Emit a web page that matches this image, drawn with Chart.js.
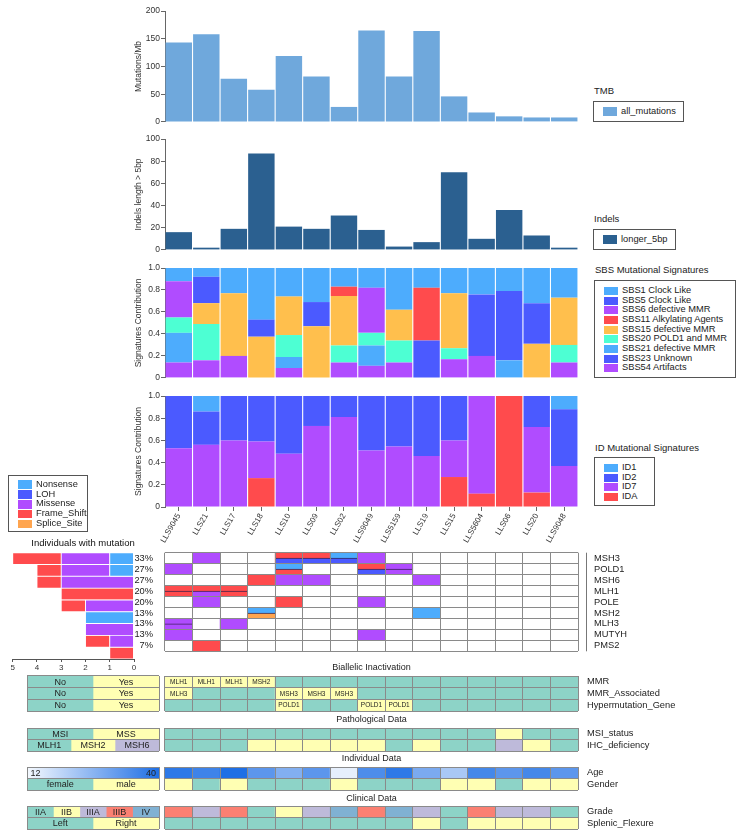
<!DOCTYPE html>
<html>
<head>
<meta charset="utf-8">
<title>Mutational landscape</title>
<script src="https://cdn.jsdelivr.net/npm/chart.js@4.4.1/dist/chart.umd.min.js"></script>
<style>
html,body{margin:0;padding:0;background:#fff;}
body{position:relative;width:743px;height:840px;overflow:hidden;font-family:"Liberation Sans",Arial,Helvetica,sans-serif;color:#222;}
canvas{position:absolute;}
.tx{position:absolute;white-space:nowrap;line-height:1;color:#222;}
.box{position:absolute;border:1px solid #555;box-sizing:border-box;}
.sw{position:absolute;}
</style>
</head>
<body>
<script>
// ---------------- DATA ----------------
const samples = ['LLS9045','LLS21','LLS17','LLS18','LLS10','LLS09','LLS02','LLS9049','LLS5159','LLS19','LLS15','LLS5604','LLS06','LLS20','LLS9048'];

const tmbAllMutations = [143, 158, 78, 58, 119, 82, 27, 165, 82, 164, 46, 17, 10, 8, 8];
const indelsLonger5bp = [16, 2, 19, 87, 21, 19, 31, 18, 3, 7, 70, 10, 36, 13, 2];

const sbs1  = [0.12, 0.08, 0.23, 0.47, 0.26, 0.31, 0.17, 0.18, 0.38, 0.18, 0.23, 0.24, 0.21, 0.32, 0.27];
const sbs5  = [0, 0.24, 0, 0.155, 0, 0.22, 0, 0, 0, 0, 0, 0.56, 0.63, 0.37, 0];
const sbs6  = [0.33, 0, 0, 0, 0, 0, 0, 0.41, 0, 0, 0, 0, 0, 0, 0];
const sbs11 = [0, 0, 0, 0, 0, 0, 0.085, 0, 0, 0.48, 0, 0, 0, 0, 0];
const sbs15 = [0, 0.19, 0.57, 0.375, 0.35, 0.47, 0.45, 0, 0.28, 0, 0.50, 0, 0, 0.31, 0.43];
const sbs20 = [0.14, 0.33, 0, 0, 0.20, 0, 0.155, 0.115, 0.20, 0, 0.10, 0, 0, 0, 0.16];
const sbs21 = [0.27, 0, 0, 0, 0.10, 0, 0, 0.185, 0, 0, 0, 0, 0.16, 0, 0];
const sbs23 = [0, 0, 0, 0, 0, 0, 0, 0, 0, 0.34, 0, 0, 0, 0, 0];
const sbs54 = [0.14, 0.16, 0.20, 0, 0.09, 0, 0.14, 0.11, 0.14, 0, 0.17, 0.20, 0, 0, 0.14];

const id1 = [0, 0.14, 0, 0, 0, 0, 0, 0, 0, 0, 0, 0, 0, 0, 0.12];
const id2 = [0.47, 0.30, 0.40, 0.41, 0.52, 0.27, 0.19, 0.49, 0.455, 0.54, 0.40, 0, 0, 0.28, 0.51];
const id7 = [0.53, 0.56, 0.60, 0.33, 0.48, 0.73, 0.81, 0.51, 0.545, 0.46, 0.33, 0.88, 0, 0.59, 0.37];
const idA = [0, 0, 0, 0.26, 0, 0, 0, 0, 0, 0, 0.27, 0.12, 1, 0.13, 0];

const genes   = ['MSH3','POLD1','MSH6','MLH1','POLE','MSH2','MLH3','MUTYH','PMS2'];
const genePct = ['33%','27%','27%','20%','20%','13%','13%','13%','7%'];

const mutMSH3  = ['', 'Missense', '', '', 'Frame_Shift+LOH', 'Frame_Shift+LOH', 'Nonsense+LOH', 'Missense', '', '', '', '', '', '', ''];
const mutPOLD1 = ['Missense', '', '', '', 'Nonsense+Frame_Shift', '', '', 'Frame_Shift+LOH', 'Missense+Missense', '', '', '', '', '', ''];
const mutMSH6  = ['', '', '', 'Frame_Shift', 'Missense', 'Missense', '', '', '', 'Missense', '', '', '', '', ''];
const mutMLH1  = ['Frame_Shift+Frame_Shift', 'Frame_Shift+Missense', 'Frame_Shift+Frame_Shift', '', '', '', '', '', '', '', '', '', '', '', ''];
const mutPOLE  = ['', 'Missense', '', '', 'Frame_Shift', '', '', 'Missense', '', '', '', '', '', '', ''];
const mutMSH2  = ['', '', '', 'Nonsense+Splice_Site', '', '', '', '', '', 'Nonsense', '', '', '', '', ''];
const mutMLH3  = ['Missense+Missense', '', 'Missense', '', '', '', '', '', '', '', '', '', '', '', ''];
const mutMUTYH = ['Missense', '', '', '', '', '', '', 'Missense', '', '', '', '', '', '', ''];
const mutPMS2  = ['', 'Frame_Shift', '', '', '', '', '', '', '', '', '', '', '', '', ''];

const countNonsense   = [1, 1, 0, 0, 0, 2, 0, 0, 0];
const countMissense   = [2, 2, 3, 0, 2, 0, 2, 1, 0];
const countFrameShift = [2, 1, 1, 3, 1, 0, 0, 1, 1];

const mmr               = ['MLH1','MLH1','MLH1','MSH2','','','','','','','','','','',''];
const mmrAssociated     = ['MLH3','','','','MSH3','MSH3','MSH3','','','','','','','',''];
const hypermutationGene = ['','','','','POLD1','','','POLD1','POLD1','','','','','',''];
const msiStatus     = ['MSI','MSI','MSI','MSI','MSI','MSI','MSI','MSI','MSI','MSI','MSI','MSI','MSS','MSI','MSI'];
const ihcDeficiency = ['MLH1','MLH1','MLH1','MSH2','MSH2','MSH2','MSH2','MSH2','MLH1','MSH2','MLH1','MLH1','MSH6','MSH2','MLH1'];
const age    = [38, 36, 40, 32, 27, 32, 14, 34, 38, 28, 22, 35, 32, 35, 32];
const gender = ['male','female','male','female','female','female','male','female','female','female','male','male','female','male','male'];
const grade  = ['IIIB','IIIA','IIIB','IIA','IIB','IIIA','IV','IIIB','IV','IIIA','IIA','IIIB','IIIA','IIIA','IIA'];
const splenicFlexure = ['Left','Left','Left','Left','Left','Left','Left','Left','Left','Right','Left','Right','Right','Right','Right'];

const legendBinary  = ['No','Yes'];
const legendMSI     = ['MSI','MSS'];
const legendIHC     = ['MLH1','MSH2','MSH6'];
const legendAge     = [12, 40];
const legendGender  = ['female','male'];
const legendGrade   = ['IIA','IIB','IIIA','IIIB','IV'];
const legendSplenic = ['Left','Right'];

// ---------------- STYLE ----------------
const COL = {
  tmb:'#6fa8dc', indel:'#2b6090',
  lblue:'#4dacfd', blue:'#4b5aff', purple:'#b04cff', red:'#ff4b4d', orange:'#ffbf4d', turq:'#4dffd3', splice:'#ffa54f',
  teal:'#8dd3c7', yellow:'#ffffb3', lav:'#bebada', salmon:'#fb8072', steel:'#80b1d3'
};
const GRID = '#8a8a8a';
const mutColor = {Nonsense:COL.lblue, LOH:COL.blue, Missense:COL.purple, Frame_Shift:COL.red, Splice_Site:COL.splice};
const binColor = {No:COL.teal, Yes:COL.yellow};
const msiColor = {MSI:COL.teal, MSS:COL.yellow};
const ihcColor = {MLH1:COL.teal, MSH2:COL.yellow, MSH6:COL.lav};
const genderColor = {female:COL.teal, male:COL.yellow};
const gradeColor = {IIA:COL.teal, IIB:COL.yellow, IIIA:COL.lav, IIIB:COL.salmon, IV:COL.steel};
const splenicColor = {Left:COL.teal, Right:COL.yellow};
const AGE_LOW = [245, 249, 254], AGE_HIGH = [31, 111, 229];
function ageColor(a) {
  const t = (a - legendAge[0]) / (legendAge[1] - legendAge[0]);
  const c = AGE_LOW.map((v, i) => Math.round(v + (AGE_HIGH[i] - v) * t));
  return 'rgb(' + c.join(',') + ')';
}
const FONT = '"Liberation Sans", Arial, Helvetica, sans-serif';

Chart.defaults.font.family = FONT;
Chart.defaults.color = '#333';
Chart.defaults.animation = false;
Chart.defaults.responsive = false;
Chart.defaults.devicePixelRatio = 1;
Chart.defaults.plugins.legend.display = false;
Chart.defaults.plugins.tooltip.enabled = false;

const cellTextPlugin = {
  id: 'cellText',
  afterDraw(chart) {
    const ctx = chart.ctx;
    const horiz = chart.options.indexAxis === 'y';
    chart.data.datasets.forEach((ds, di) => {
      if (!ds.cellText) return;
      const meta = chart.getDatasetMeta(di);
      meta.data.forEach((el, i) => {
        const t = ds.cellText[i];
        if (t === '' || t === undefined || t === null) return;
        let x, y, al = 'center';
        if (horiz) {
          const l = Math.min(el.x, el.base), r = Math.max(el.x, el.base);
          al = ds.cellAlign ? ds.cellAlign[i] : 'center';
          x = al === 'left' ? l + 3 : al === 'right' ? r - 3 : (l + r) / 2;
          y = el.y;
        } else {
          x = el.x; y = (el.y + el.base) / 2;
        }
        ctx.save();
        ctx.font = ds.cellFont || ('9px ' + FONT);
        ctx.fillStyle = '#222';
        ctx.textAlign = al;
        ctx.textBaseline = 'middle';
        ctx.fillText(String(t), x, y + 0.5);
        ctx.restore();
      });
    });
  }
};
Chart.register(cellTextPlugin);

function mk(left, top, w, h) {
  const c = document.createElement('canvas');
  c.width = w; c.height = h;
  c.style.left = left + 'px'; c.style.top = top + 'px';
  c.style.width = w + 'px'; c.style.height = h + 'px';
  document.body.appendChild(c);
  return c.getContext('2d');
}
function txt(s, x, y, size, align, color) {
  const d = document.createElement('div');
  d.className = 'tx';
  d.textContent = s;
  d.style.fontSize = size + 'px';
  d.style.left = x + 'px';
  d.style.top = y + 'px';
  if (color) d.style.color = color;
  d.style.transform = align === 'center' ? 'translate(-50%,-50%)' : 'translateY(-50%)';
  document.body.appendChild(d);
}
function htmlLegend(title, titleY, box, items, y0, step, swH) {
  if (title) txt(title, box.left + 1, titleY, 9.5);
  const b = document.createElement('div');
  b.className = 'box';
  b.style.left = box.left + 'px'; b.style.top = box.top + 'px';
  b.style.width = box.w + 'px'; b.style.height = box.h + 'px';
  document.body.appendChild(b);
  items.forEach((it, k) => {
    const cy = y0 + k * step;
    const s = document.createElement('div');
    s.className = 'sw';
    s.style.left = (box.left + 10) + 'px';
    s.style.top = (cy - swH / 2) + 'px';
    s.style.width = '14px'; s.style.height = swH + 'px';
    s.style.background = it.color;
    document.body.appendChild(s);
    txt(it.label, box.left + 28, cy, 9.3);
  });
}

function yAxis(min, max, step, title) {
  return {
    min, max,
    ticks: {stepSize: step, padding: 1, color: '#333', font: {size: 8.5}},
    grid: {drawOnChartArea: false, drawTicks: true, tickLength: 4, color: '#666'},
    border: {display: true, color: '#666'},
    title: {display: true, text: title, color: '#333', font: {size: 8.5}, padding: {top: 5, bottom: 0}},
    afterFit(s) { s.width = 36; }
  };
}
const barDs = {categoryPercentage: 1, barPercentage: 0.96, borderWidth: 0};

// ---------------- TOP PANELS ----------------
new Chart(mk(129, 0, 455, 128), {
  type: 'bar',
  data: {labels: samples, datasets: [Object.assign({label: 'all_mutations', data: tmbAllMutations, backgroundColor: COL.tmb}, barDs)]},
  options: {layout: {padding: {left: 0, right: 6, top: 11, bottom: 6}},
    scales: {x: {display: false}, y: yAxis(0, 200, 50, 'Mutations/Mb')}}
});
new Chart(mk(129, 128, 455, 128), {
  type: 'bar',
  data: {labels: samples, datasets: [Object.assign({label: 'longer_5bp', data: indelsLonger5bp, backgroundColor: COL.indel}, barDs)]},
  options: {layout: {padding: {left: 0, right: 6, top: 11, bottom: 6}},
    scales: {x: {display: false}, y: yAxis(0, 100, 20, 'Indels length > 5bp')}}
});

const sbsSeries = [
  {label: 'SBS54 Artifacts', data: sbs54, color: COL.purple},
  {label: 'SBS23 Unknown', data: sbs23, color: COL.blue},
  {label: 'SBS21 defective MMR', data: sbs21, color: COL.lblue},
  {label: 'SBS20 POLD1 and MMR', data: sbs20, color: COL.turq},
  {label: 'SBS15 defective MMR', data: sbs15, color: COL.orange},
  {label: 'SBS11 Alkylating Agents', data: sbs11, color: COL.red},
  {label: 'SBS6 defective MMR', data: sbs6, color: COL.purple},
  {label: 'SBS5 Clock Like', data: sbs5, color: COL.blue},
  {label: 'SBS1 Clock Like', data: sbs1, color: COL.lblue}
];
new Chart(mk(129, 257, 455, 127), {
  type: 'bar',
  data: {labels: samples, datasets: sbsSeries.map(s => Object.assign({label: s.label, data: s.data, backgroundColor: s.color}, barDs))},
  options: {layout: {padding: {left: 0, right: 6, top: 11, bottom: 6}},
    scales: {x: {display: false, stacked: true}, y: Object.assign(yAxis(0, 1, 0.2, 'Signatures Contribution'), {stacked: true})}}
});

const idSeries = [
  {label: 'IDA', data: idA, color: COL.red},
  {label: 'ID7', data: id7, color: COL.purple},
  {label: 'ID2', data: id2, color: COL.blue},
  {label: 'ID1', data: id1, color: COL.lblue}
];
new Chart(mk(129, 385, 455, 162), {
  type: 'bar',
  data: {labels: samples, datasets: idSeries.map(s => Object.assign({label: s.label, data: s.data, backgroundColor: s.color}, barDs))},
  options: {layout: {padding: {left: 0, right: 6, top: 11, bottom: 0}},
    scales: {
      x: {stacked: true, grid: {drawOnChartArea: false, drawTicks: true, tickLength: 4, color: '#666', offset: false},
          border: {display: false},
          ticks: {minRotation: 60, maxRotation: 60, padding: 1, font: {size: 8}, color: '#333', autoSkip: false},
          afterFit(s) { s.height = 40; }},
      y: Object.assign(yAxis(0, 1, 0.2, 'Signatures Contribution'), {stacked: true})
    }}
});

// ---------------- ONCOPRINT ----------------
const mutRows = [mutMSH3, mutPOLD1, mutMSH6, mutMLH1, mutPOLE, mutMSH2, mutMLH3, mutMUTYH, mutPMS2];
const oncoFull = [], oncoHalf = [];
const cellDs = {grouped: false, categoryPercentage: 1, barPercentage: 1, borderWidth: 0};
mutRows.forEach((row, r) => {
  oncoFull.push(Object.assign({
    data: row.map(v => v ? [r, r + 1] : null),
    backgroundColor: row.map(v => v ? mutColor[v.split('+')[0]] : 'rgba(0,0,0,0)')
  }, cellDs));
  const split = row.map(v => !!v && v.indexOf('+') > 0);
  if (split.some(Boolean)) {
    oncoHalf.push(Object.assign({}, cellDs, {
      data: row.map((v, i) => split[i] ? [r + 0.5, r + 1] : null),
      backgroundColor: row.map((v, i) => split[i] ? mutColor[v.split('+')[1]] : 'rgba(0,0,0,0)'),
      borderColor: 'rgba(45,25,70,0.85)',
      borderWidth: {top: 1, right: 0, bottom: 0, left: 0},
      borderSkipped: false
    }));
  }
});
// half cells listed first so that they are drawn on top of the full cells
const onco = oncoHalf.concat(oncoFull);

function rowTicks(n, half) { const t = []; for (let i = 0; i <= n; i++) { if (half) { if (i < n) t.push({value: i + 0.5}); } else t.push({value: i}); } return t; }
function gridX() {
  return {type: 'category', offset: true, grid: {offset: true, z: 1, color: GRID, drawTicks: false},
          ticks: {display: false}, border: {display: false}, afterFit(s) { s.height = 0; }};
}
function gridY(n) {
  return {type: 'linear', position: 'left', reverse: true, min: 0, max: n,
          afterBuildTicks(s) { s.ticks = rowTicks(n, false); },
          ticks: {display: false}, grid: {z: 1, color: GRID, drawTicks: false}, border: {display: false},
          afterFit(s) { s.width = 0; }};
}
function labelY(n, labels, pos, gap, width, size) {
  return {type: 'linear', position: pos, reverse: true, min: 0, max: n,
          afterBuildTicks(s) { s.ticks = rowTicks(n, true); },
          ticks: {autoSkip: false, padding: 0, color: '#222', font: {size: size},
                  callback: v => labels[Math.floor(v)]},
          grid: {display: true, drawOnChartArea: false, drawTicks: true, tickLength: gap, tickColor: 'rgba(0,0,0,0)'},
          border: {display: false},
          afterFit(s) { s.width = width; }};
}
const geneLinePlugin = {
  id: 'geneLine',
  afterDraw(chart) {
    const a = chart.chartArea, ctx = chart.ctx;
    const x = Math.round(a.right + 8) + 0.5;
    ctx.save(); ctx.strokeStyle = '#777'; ctx.lineWidth = 1;
    ctx.beginPath(); ctx.moveTo(x, a.top); ctx.lineTo(x, a.bottom); ctx.stroke();
    ctx.restore();
  }
};
new Chart(mk(120, 545, 623, 120), {
  type: 'bar',
  data: {labels: samples, datasets: onco},
  options: {layout: {padding: {left: 0, right: 0, top: 7.7, bottom: 13.7}},
    scales: {x: gridX(), y: gridY(9), yPct: labelY(9, genePct, 'left', 12, 45, 9.3), yGene: labelY(9, genes, 'right', 16, 165, 9.3)}},
  plugins: [geneLinePlugin]
});

// left bar "Individuals with mutation"
new Chart(mk(0, 545, 140, 135), {
  type: 'bar',
  data: {labels: genes, datasets: [
    {label: 'Nonsense', data: countNonsense, backgroundColor: COL.lblue},
    {label: 'Missense', data: countMissense, backgroundColor: COL.purple},
    {label: 'Frame_Shift', data: countFrameShift, backgroundColor: COL.red}
  ].map(d => Object.assign(d, {categoryPercentage: 1, barPercentage: 1, borderWidth: 0.8, borderColor: '#fff', borderSkipped: false}))},
  options: {indexAxis: 'y', layout: {padding: {left: 12.7, right: 6, top: 7.7, bottom: 0}},
    scales: {
      x: {type: 'linear', reverse: true, min: 0, max: 5, stacked: true,
          afterBuildTicks(s) { s.ticks = [0, 1, 2, 3, 4, 5].map(v => ({value: v})); },
          ticks: {font: {size: 8}, padding: 1, color: '#333'},
          grid: {drawOnChartArea: false, drawTicks: true, tickLength: 3, color: '#555'},
          border: {display: true, color: '#555'},
          afterFit(s) { s.height = 21; }},
      y: {type: 'category', stacked: true, display: false}
    }}
});
txt('Individuals with mutation', 83, 543, 9.5, 'center', '#111');

// ---------------- ANNOTATION TRACKS ----------------
const ROWH = 11.67;
function buildTrack(areaTop, rows, labels) {
  const n = rows.length;
  const H = Math.round(n * ROWH + 14);
  const ctx = mk(120, areaTop - 7, 623, H);
  const datasets = rows.map((row, r) => Object.assign({
    data: row.values.map(() => [r, r + 1]),
    backgroundColor: row.values.map(row.colorOf),
    cellText: row.values.map(row.textOf || (() => '')),
    cellFont: '6.5px ' + FONT
  }, cellDs));
  new Chart(ctx, {
    type: 'bar',
    data: {labels: samples, datasets},
    options: {layout: {padding: {left: 45, right: 0, top: 7, bottom: H - 7 - n * ROWH}},
      scales: {x: gridX(), y: gridY(n), yLab: labelY(n, labels, 'right', 9, 165, 9.3)}}
  });
}
function buildLegendGrid(areaTop, rows) {
  const n = rows.length;
  const H = Math.round(n * ROWH + 14);
  const ctx = mk(20, areaTop - 7, 145, H);
  const maxSeg = Math.max(...rows.map(r => r.cats.length));
  const datasets = [];
  for (let k = 0; k < maxSeg; k++) {
    datasets.push({
      data: rows.map(r => k < r.cats.length ? [k / r.cats.length, (k + 1) / r.cats.length] : null),
      backgroundColor: (c) => {
        const row = rows[c.dataIndex];
        if (!row || k >= row.cats.length) return 'rgba(0,0,0,0)';
        if (row.gradient) {
          const a = c.chart.chartArea;
          if (!a) return ageColor(row.cats[k]);
          const g = c.chart.ctx.createLinearGradient(a.left, 0, a.right, 0);
          g.addColorStop(0, ageColor(legendAge[0]));
          g.addColorStop(1, ageColor(legendAge[1]));
          return g;
        }
        return row.colorOf(row.cats[k]);
      },
      cellText: rows.map(r => k < r.cats.length ? r.cats[k] : ''),
      cellAlign: rows.map(r => r.gradient ? (k === 0 ? 'left' : 'right') : 'center'),
      cellFont: '9px ' + FONT,
      grouped: false, categoryPercentage: 1, barPercentage: 1, borderWidth: 0
    });
  }
  new Chart(ctx, {
    type: 'bar',
    data: {labels: rows.map((r, i) => 'r' + i), datasets},
    options: {indexAxis: 'y', layout: {padding: {left: 7, right: 6, top: 7, bottom: H - 7 - n * ROWH}},
      scales: {
        x: {type: 'linear', min: 0, max: 1, afterBuildTicks(s) { s.ticks = [{value: 0}, {value: 1}]; },
            ticks: {display: false}, grid: {z: 1, color: GRID, drawTicks: false}, border: {display: false},
            afterFit(s) { s.height = 0; }},
        y: {type: 'category', offset: true, grid: {offset: true, z: 1, color: GRID, drawTicks: false},
            ticks: {display: false}, border: {display: false}, afterFit(s) { s.width = 0; }}
      }}
  });
}
const yesNo = v => v ? COL.yellow : COL.teal;
const asText = v => v;

txt('Biallelic Inactivation', 371.5, 667, 9, 'center');
buildTrack(676, [
  {values: mmr, colorOf: yesNo, textOf: asText},
  {values: mmrAssociated, colorOf: yesNo, textOf: asText},
  {values: hypermutationGene, colorOf: yesNo, textOf: asText}
], ['MMR', 'MMR_Associated', 'Hypermutation_Gene']);
buildLegendGrid(676, [
  {cats: legendBinary, colorOf: v => binColor[v]},
  {cats: legendBinary, colorOf: v => binColor[v]},
  {cats: legendBinary, colorOf: v => binColor[v]}
]);

txt('Pathological Data', 371.5, 719, 9, 'center');
buildTrack(727.7, [
  {values: msiStatus, colorOf: v => msiColor[v]},
  {values: ihcDeficiency, colorOf: v => ihcColor[v]}
], ['MSI_status', 'IHC_deficiency']);
buildLegendGrid(727.7, [
  {cats: legendMSI, colorOf: v => msiColor[v]},
  {cats: legendIHC, colorOf: v => ihcColor[v]}
]);

txt('Individual Data', 371.5, 758, 9, 'center');
buildTrack(767, [
  {values: age, colorOf: ageColor},
  {values: gender, colorOf: v => genderColor[v]}
], ['Age', 'Gender']);
buildLegendGrid(767, [
  {cats: legendAge, gradient: true},
  {cats: legendGender, colorOf: v => genderColor[v]}
]);

txt('Clinical Data', 371.5, 798, 9, 'center');
buildTrack(806, [
  {values: grade, colorOf: v => gradeColor[v]},
  {values: splenicFlexure, colorOf: v => splenicColor[v]}
], ['Grade', 'Splenic_Flexure']);
buildLegendGrid(806, [
  {cats: legendGrade, colorOf: v => gradeColor[v]},
  {cats: legendSplenic, colorOf: v => splenicColor[v]}
]);

// ---------------- LEGENDS ----------------
htmlLegend('TMB', 91, {left: 593, top: 101, w: 91, h: 21}, [{label: 'all_mutations', color: COL.tmb}], 111.5, 0, 9);
htmlLegend('Indels', 219, {left: 593, top: 229, w: 83, h: 21}, [{label: 'longer_5bp', color: COL.indel}], 239.5, 0, 9);
htmlLegend('SBS Mutational Signatures', 270, {left: 594, top: 280, w: 142, h: 98},
  sbsSeries.slice().reverse().map(s => ({label: s.label, color: s.color})), 291, 9.67, 8);
htmlLegend('ID Mutational Signatures', 448, {left: 594, top: 457, w: 61, h: 49},
  idSeries.slice().reverse().map(s => ({label: s.label, color: s.color})), 468, 9.6, 8);
htmlLegend('', 0, {left: 8, top: 475, w: 80, h: 57}, [
  {label: 'Nonsense', color: mutColor.Nonsense},
  {label: 'LOH', color: mutColor.LOH},
  {label: 'Missense', color: mutColor.Missense},
  {label: 'Frame_Shift', color: mutColor.Frame_Shift},
  {label: 'Splice_Site', color: mutColor.Splice_Site}
], 484.7, 9.8, 8.5);
</script>
</body>
</html>
